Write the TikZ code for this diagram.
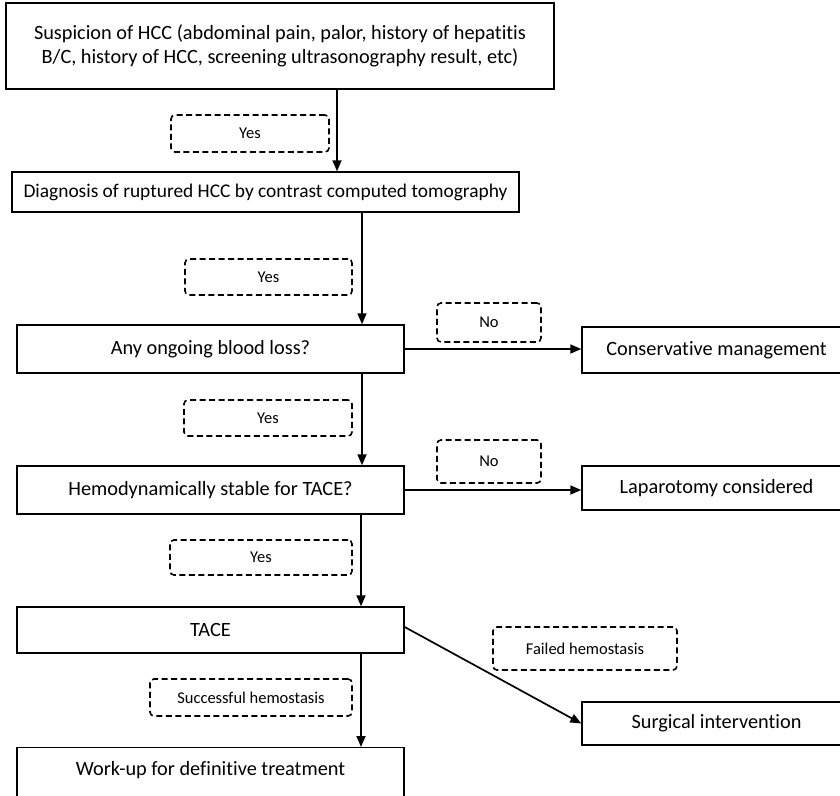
\documentclass[tikz,border=0pt]{standalone}
\usepackage{fontspec}
\setmainfont{Carlito}[Ligatures=NoCommon]
\usetikzlibrary{arrows.meta}

\begin{document}
\begin{tikzpicture}[x=1pt,y=-1pt,
	box/.style={draw,line width=1.4pt,inner sep=0pt,align=center,font=\fontsize{20.3}{24}\selectfont},
	lab/.style={draw,dash pattern=on 6pt off 3.5pt,rounded corners=4pt,line width=1.6pt,inner sep=0pt,font=\fontsize{16.5}{20}\selectfont},
	arr/.style={-{Triangle[length=11pt,width=9pt]},line width=1.7pt}]
	\useasboundingbox (0,0) rectangle (840,795);
	\clip (0,0) rectangle (840,795);
	% left column
	\node[box,minimum width=548,minimum height=86] (susp) at (280,46) {Suspicion of HCC (abdominal pain, palor, history of hepatitis\\B/C, history of HCC, screening ultrasonography result, etc)};
	\node[box,minimum width=507,minimum height=40,font=\fontsize{19.4}{24}\selectfont] (diag) at (265.5,192) {Diagnosis of ruptured HCC by contrast computed tomography};
	\node[box,minimum width=387,minimum height=48] (loss) at (210.5,349) {Any ongoing blood loss?};
	\node[box,minimum width=387,minimum height=48] (stab) at (210.5,490) {Hemodynamically stable for TACE?};
	\node[box,minimum width=387,minimum height=46] (tace) at (210.5,630) {TACE};
	\node[box,anchor=north,minimum width=387,text height=28pt,text depth=30pt] (work) at (210.5,747) {Work-up for definitive treatment};
	% right column
	\node[box,minimum width=269,minimum height=46] (cons) at (716.5,350) {Conservative management};
	\node[box,minimum width=269,minimum height=44] (lapa) at (716.5,488) {Laparotomy considered};
	\node[box,minimum width=269,minimum height=43] (surg) at (716.5,723.5) {Surgical intervention};
	% dashed labels
	\foreach \nm/\cx/\cy/\w/\h/\t in {yes1/250/133.5/158/37/Yes,yes2/268.5/277/167/36/Yes,
		no1/489/322.5/104/39/No,yes3/268/418/168/36/Yes,no2/489/461.5/104/43/No,
		yes4/261/557.5/182/35/Yes,fail/585/648.5/184/43/Failed hemostasis,
		succ/251/697.5/202/37/Successful hemostasis}{
		\node[lab,minimum width=\w,minimum height=\h] (\nm) at (\cx,\cy) {\t};
	}
	% arrows
	\draw[arr] ([xshift=57pt]susp.south) -- ([xshift=57pt]susp.south |- diag.north);
	\draw[arr] ([xshift=96.5pt]diag.south) -- ([xshift=96.5pt]diag.south |- loss.north);
	\draw[arr] ([xshift=151.5pt]loss.south) -- ([xshift=151.5pt]loss.south |- stab.north);
	\draw[arr] ([xshift=150.5pt]stab.south) -- ([xshift=150.5pt]stab.south |- tace.north);
	\draw[arr] ([xshift=150.5pt]tace.south) -- ([xshift=150.5pt]tace.south |- work.north);
	\draw[arr] (loss.east) -- (loss.east -| cons.west);
	\draw[arr] (stab.east) -- (stab.east -| lapa.west);
	\draw[arr] ([yshift=3pt]tace.east) -- (surg.west);
\end{tikzpicture}
\end{document}
